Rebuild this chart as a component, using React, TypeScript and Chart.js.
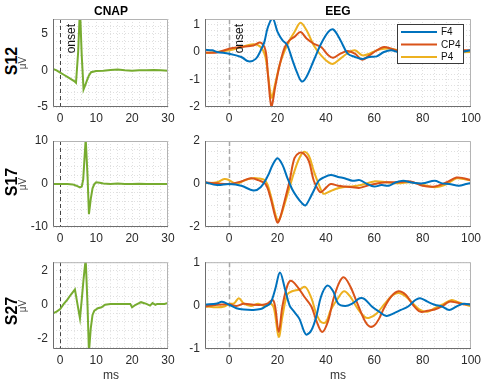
import React, { useEffect, useRef } from "react";
import { Chart, registerables } from "chart.js";
Chart.register(...registerables);

const FONT = "'Liberation Sans', Arial, Helvetica, sans-serif";
const BLUE = "#0072BD";
const ORANGE = "#D95319";
const YELLOW = "#EDB120";
const GREEN = "#77AC30";

// ---------- tick labels ----------
const cnapXMajor = [0, 10, 20, 30];
const eegXMajor = [0, 20, 40, 60, 80, 100];
const s12CnapYMajor = [-5, 0, 5];
const s17CnapYMajor = [-10, 0, 10];
const s27CnapYMajor = [-2, 0, 2];
const s12EegYMajor = [-2, -1, 0, 1];
const s17EegYMajor = [-2, 0, 2];
const s27EegYMajor = [-1, 0, 1];

const rowLabels = ["S12", "S17", "S27"];
const legendLabels = ["F4", "CP4", "P4"];

// ---------- CNAP ----------
const s12CnapX = [-2, -1, 0, 1, 2, 3, 4, 4.4, 5, 5.5, 6, 6.5, 7, 7.5, 8, 8.6, 10, 12, 14, 16, 18, 20, 22, 24, 26, 28, 30];
const s12CnapY = [0.2, 0.0, -0.3, -0.6, -0.9, -1.2, -1.5, -1.7, 2.5, 8.5, 2.0, -2.6, -2.0, -1.3, -0.7, -0.25, -0.1, -0.05, 0.05, 0.1, 0.0, -0.05, 0.0, 0.0, 0.05, 0.0, -0.05];

const s17CnapX = [-2, 0, 2, 3.5, 4.5, 5.5, 6.0, 6.4, 7.1, 7.6, 8.0, 8.5, 9, 9.5, 10, 11, 12, 14, 16, 18, 20, 22, 24, 26, 28, 30];
const s17CnapY = [0, 0, 0, -0.1, -0.4, -0.8, -0.6, 1.0, 10.5, 2.0, -7.0, -3.5, -1.0, 0.0, 0.4, 0.3, 0.1, 0.0, 0.1, 0.0, 0.0, 0.05, 0.0, 0.0, 0.0, 0.0];

const s27CnapX = [-2, -1, 0, 1, 2, 3, 4.1, 5, 5.5, 6, 6.5, 7.1, 7.6, 8, 8.5, 9, 9.5, 10.5, 11.5, 12.5, 14, 16, 18, 19.5, 20, 21, 22.5, 24, 25, 25.7, 26.5, 27, 28, 29, 30];
const s27CnapY = [-0.5, -0.4, -0.25, 0.05, 0.3, 0.6, 0.9, -0.2, -0.8, 0.3, 1.5, 2.7, 0.0, -2.8, -1.4, -0.6, -0.35, -0.2, -0.15, 0.0, 0.05, 0.05, 0.05, 0.05, -0.15, 0.0, 0.15, 0.05, -0.05, 0.1, 0.0, 0.05, 0.05, 0.05, 0.1];

// ---------- EEG S12 ----------
const s12F4X = [-10, -7, -5, 0, 5, 8, 11, 13, 14.5, 16, 18, 20, 22, 24, 26, 28, 30, 32, 35, 38, 41, 43, 46, 49, 52, 55, 58, 61, 64, 67, 70, 75, 80, 85, 90, 95, 100];
const s12F4Y = [0.08, 0.06, 0.0, -0.06, -0.18, -0.34, -0.25, 0.05, 0.35, 0.9, 1.22, 0.73, 0.43, 0.25, -0.25, -0.73, -1.07, -0.9, -0.3, 0.3, 0.73, 0.82, 0.43, -0.06, -0.18, -0.25, -0.18, -0.16, 0.0, 0.06, 0.0, 0.06, 0.0, 0.05, 0.02, 0.0, 0.06];
const s12Cp4X = [-10, -5, 0, 5, 10, 13, 15, 16, 17.5, 19, 21, 23, 25, 27, 29.5, 32, 35, 38, 41, 43, 46, 49, 52, 55, 58, 61, 64, 67, 70, 80, 90, 100];
const s12Cp4Y = [-0.02, -0.02, 0.12, 0.18, 0.24, 0.34, 0.06, -0.8, -2.0, -1.28, -0.43, 0.18, 0.43, 0.55, 0.73, 0.49, 0.3, 0.18, -0.12, -0.21, -0.06, 0.04, -0.06, -0.28, -0.12, 0.06, 0.18, 0.12, 0.04, 0.0, 0.06, 0.06];
const s12P4X = [-10, 0, 5, 10, 13, 15, 17.5, 19, 21, 23, 25, 27, 29.5, 32, 35, 38, 41, 43, 46, 49, 52, 55, 58, 61, 64, 67, 70, 80, 90, 100];
const s12P4Y = [-0.04, 0.06, 0.18, 0.28, 0.18, -0.18, -1.65, -1.16, -0.43, 0.06, 0.43, 0.73, 1.06, 0.79, 0.24, -0.12, -0.37, -0.43, -0.24, -0.04, 0.06, -0.12, -0.06, 0.06, 0.12, 0.12, 0.06, 0.0, -0.02, 0.0];

// ---------- EEG S17 ----------
const s17F4X = [-10, -5, 0, 5, 10, 13, 16, 18, 20, 22, 24, 26, 28, 30, 31.5, 33, 35, 37, 39, 42, 45, 48, 51, 54, 57, 60, 63, 66, 69, 72, 75, 80, 85, 88, 91, 95, 98, 100];
const s17F4Y = [0.08, -0.05, 0, -0.08, -0.3, -0.15, 0.38, 0.9, 1.2, 0.9, 0.3, -0.23, -0.6, -0.88, -1.0, -0.75, -0.3, 0.15, 0.3, 0.42, 0.33, 0.26, 0.15, 0.18, 0, -0.12, -0.05, -0.08, 0.08, 0.15, 0.08, 0.03, 0.15, 0.03, 0, -0.08, 0, 0.05];
const s17Cp4X = [-10, -5, 0, 5, 9, 12, 15, 17, 19, 20, 21, 23, 25, 27, 29, 31, 33, 35, 37, 38, 40, 42, 45, 48, 51, 54, 57, 60, 65, 70, 75, 80, 85, 90, 94, 97, 100];
const s17Cp4Y = [0.08, 0.03, 0, 0.12, 0.27, 0.18, 0, -0.6, -1.5, -1.8, -1.6, -0.75, 0.15, 1.2, 1.45, 1.4, 1.05, 0.15, -0.3, -0.38, -0.18, 0, -0.08, -0.12, -0.15, -0.18, -0.08, 0, 0.08, 0.08, 0.12, -0.08, -0.12, 0.08, 0.3, 0.27, 0.18];
const s17P4X = [-10, -5, -2, 0, 3, 6, 9, 12, 15, 17, 19, 20, 21, 23, 25, 27, 29, 31, 33, 35, 37, 39, 41, 44, 47, 50, 53, 56, 60, 65, 70, 75, 80, 85, 90, 94, 97, 100];
const s17P4Y = [0.03, 0.08, 0.23, 0.18, 0, 0.15, 0.26, 0.26, 0.15, -0.45, -1.36, -1.67, -1.6, -0.9, -0.15, 0.6, 1.2, 1.5, 1.3, 0.6, 0, -0.45, -0.38, -0.23, -0.15, -0.12, -0.08, 0, 0.12, 0.08, 0.03, 0.08, -0.03, -0.15, 0, 0.26, 0.23, 0.15];

// ---------- EEG S27 ----------
const s27F4X = [-10, -5, -3, 0, 3, 6, 10, 13, 15, 17, 19, 21, 23, 25, 27, 29, 31, 32, 34, 36, 38, 40.5, 43, 45, 48, 51, 54, 56, 59, 62, 65, 68, 71, 74, 77, 79, 82, 85, 88, 91, 94, 97, 100];
const s27F4Y = [0.02, 0.05, 0.09, 0.02, -0.06, -0.09, -0.1, -0.08, -0.02, 0.05, 0.37, 0.76, 0.4, 0.0, -0.15, -0.3, -0.6, -0.67, -0.57, -0.26, 0.21, 0.46, 0.33, 0.05, -0.01, 0.05, 0.17, 0.15, -0.02, -0.14, -0.24, -0.18, -0.1, -0.02, 0.13, 0.17, 0.09, 0.02, -0.02, -0.1, -0.02, 0.04, 0.02];
const s27Cp4X = [-10, -5, 0, 3, 6, 10, 14, 16, 18, 19, 20.5, 22, 24, 25.5, 28, 31, 34, 36, 38.5, 41, 43, 45.5, 47.5, 50, 53, 56, 58, 60, 62, 64, 67, 70, 73, 76, 79, 82, 85, 88, 91, 94, 97, 100];
const s27Cp4Y = [-0.02, 0.02, 0.03, -0.01, 0.04, 0.02, 0.02, 0.05, 0.13, -0.02, -0.61, -0.02, 0.45, 0.57, 0.45, 0.21, -0.02, -0.34, -0.61, -0.34, 0.13, 0.53, 0.65, 0.45, 0.05, -0.34, -0.48, -0.46, -0.3, -0.06, 0.21, 0.33, 0.25, 0.02, -0.14, -0.12, -0.09, -0.02, 0.09, 0.07, 0.03, 0.03];
const s27P4X = [-10, -5, -2, 0, 2, 4, 6, 9, 12, 15, 17, 18.5, 20.5, 22, 24, 26, 29, 31.5, 34, 36, 38, 40, 42, 45, 47.5, 50, 53, 56, 58, 61, 64, 67, 70, 73, 76, 79, 82, 85, 88, 92, 95, 98, 100];
const s27P4Y = [-0.02, -0.04, -0.02, 0.04, 0.05, 0.17, 0.05, -0.01, 0.04, -0.02, 0.05, -0.06, -0.72, -0.26, 0.25, 0.33, 0.37, 0.43, 0.17, -0.18, -0.38, -0.38, -0.1, 0.17, 0.33, 0.21, -0.06, -0.26, -0.28, -0.18, 0.02, 0.21, 0.29, 0.21, 0.05, -0.1, -0.14, -0.06, 0.02, 0.13, 0.07, 0.02, -0.02];

// ---------- helpers ----------
type Series = { xs: number[]; ys: number[]; color: string; label: string };
type PanelDef = {
  left: number; top: number; width: number; height: number;
  plotLeft: number; plotTop: number; plotRight: number; plotBottom: number;
  xMin: number; xMax: number; xStep: number; xMajor: number[];
  yMin: number; yMax: number; yStep: number; yMajor: number[];
  series: Series[]; smooth: boolean; onsetText: boolean; legend: boolean;
  onsetColor: string; onsetWidth: number; onsetDash: number[];
};

function stepTicks(min: number, max: number, step: number): number[] {
  const out: number[] = [];
  const k0 = Math.ceil(min / step - 1e-9);
  const k1 = Math.floor(max / step + 1e-9);
  for (let k = k0; k <= k1; k++) out.push(Math.round(k * step * 1e6) / 1e6);
  return out;
}
const inList = (v: number, list: number[]) => list.some((m) => Math.abs(m - v) < 1e-6);

const panelPlugin = {
  id: "panelDeco",
  beforeDatasetsDraw(chart: any, _a: any, o: any) {
    const { ctx, chartArea: a, scales } = chart;
    const x0 = Math.round(scales.x.getPixelForValue(0)) + 0.5;
    ctx.save();
    ctx.strokeStyle = o.onsetColor;
    ctx.lineWidth = o.onsetWidth;
    ctx.setLineDash(o.onsetDash);
    ctx.beginPath();
    ctx.moveTo(x0, a.top);
    ctx.lineTo(x0, a.bottom);
    ctx.stroke();
    ctx.restore();
  },
  afterDatasetsDraw(chart: any, _a: any, o: any) {
    const { ctx, chartArea: a, scales } = chart;
    ctx.save();
    ctx.setLineDash([]);
    ctx.lineWidth = 1;
    ctx.strokeStyle = "#b4b4b4";
    ctx.beginPath();
    ctx.moveTo(a.left, a.top + 0.5);
    ctx.lineTo(a.right - 0.5, a.top + 0.5);
    ctx.lineTo(a.right - 0.5, a.bottom);
    ctx.stroke();
    ctx.strokeStyle = "#6e6e6e";
    ctx.beginPath();
    ctx.moveTo(a.left + 0.5, a.top);
    ctx.lineTo(a.left + 0.5, a.bottom - 0.5);
    ctx.lineTo(a.right, a.bottom - 0.5);
    ctx.stroke();

    if (o.onsetText) {
      const x0 = scales.x.getPixelForValue(0);
      ctx.save();
      ctx.translate(x0 + 11, a.top + 5);
      ctx.rotate(-Math.PI / 2);
      ctx.fillStyle = "#111";
      ctx.font = `12px ${FONT}`;
      ctx.textAlign = "right";
      ctx.textBaseline = "middle";
      ctx.fillText("onset", 0, 0);
      ctx.restore();
    }

    if (o.legend) {
      const bx = 397 - o.cLeft, by = 24 - o.cTop, bw = 67, bh = 40;
      ctx.fillStyle = "#ffffff";
      ctx.fillRect(bx, by, bw, bh);
      ctx.strokeStyle = "#3a3a3a";
      ctx.lineWidth = 1;
      ctx.strokeRect(bx + 0.5, by + 0.5, bw - 1, bh - 1);
      const items = o.items as { label: string; color: string }[];
      items.forEach((it, i) => {
        const ly = by + 8 + i * 12.5;
        ctx.strokeStyle = it.color;
        ctx.lineWidth = 2;
        ctx.beginPath();
        ctx.moveTo(bx + 4, ly);
        ctx.lineTo(bx + 40, ly);
        ctx.stroke();
        ctx.fillStyle = "#111";
        ctx.font = `10px ${FONT}`;
        ctx.textAlign = "left";
        ctx.textBaseline = "middle";
        ctx.fillText(it.label, bx + 44, ly + 0.5);
      });
    }
    ctx.restore();
  },
};

function Panel({ d }: { d: PanelDef }) {
  const ref = useRef<HTMLCanvasElement | null>(null);
  useEffect(() => {
    if (!ref.current) return;
    const xTicks = stepTicks(d.xMin, d.xMax, d.xStep);
    const yTicks = stepTicks(d.yMin, d.yMax, d.yStep);
    const tickFont = { family: FONT, size: 12 };
    const chart = new Chart(ref.current, {
      type: "line",
      data: {
        datasets: d.series.map((s) => ({
          label: s.label,
          data: s.xs.map((x, i) => ({ x, y: s.ys[i] })),
          borderColor: s.color,
          backgroundColor: s.color,
          borderWidth: 2,
          pointRadius: 0,
          fill: false,
          tension: d.smooth ? 0.35 : 0,
          clip: 0,
        })),
      },
      options: {
        animation: false,
        responsive: false,
        maintainAspectRatio: false,
        events: [],
        layout: {
          padding: {
            left: 0,
            top: d.plotTop - d.top,
            right: d.left + d.width - d.plotRight,
            bottom: 0,
          },
        },
        plugins: {
          legend: { display: false },
          tooltip: { enabled: false },
          panelDeco: {
            onsetText: d.onsetText,
            legend: d.legend,
            onsetColor: d.onsetColor,
            onsetWidth: d.onsetWidth,
            onsetDash: d.onsetDash,
            cLeft: d.left,
            cTop: d.top,
            items: d.series.map((s) => ({ label: s.label, color: s.color })),
          },
        } as any,
        scales: {
          x: {
            type: "linear",
            min: d.xMin,
            max: d.xMax,
            afterFit: (s: any) => { s.height = d.top + d.height - d.plotBottom; },
            afterBuildTicks: (s: any) => { s.ticks = xTicks.map((v) => ({ value: v })); },
            ticks: {
              autoSkip: false,
              maxRotation: 0,
              padding: 4,
              color: "#2b2b2b",
              font: tickFont,
              callback: (v: any) => (inList(Number(v), d.xMajor) ? String(Number(v)) : ""),
            },
            grid: { color: "#e0e0e0", lineWidth: 1, drawTicks: false },
            border: { display: false, dash: [1, 2] },
          },
          y: {
            type: "linear",
            min: d.yMin,
            max: d.yMax,
            afterFit: (s: any) => { s.width = d.plotLeft - d.left; },
            afterBuildTicks: (s: any) => { s.ticks = yTicks.map((v) => ({ value: v })); },
            ticks: {
              autoSkip: false,
              padding: 5,
              color: "#2b2b2b",
              font: tickFont,
              callback: (v: any) => (inList(Number(v), d.yMajor) ? String(Number(v)) : ""),
            },
            grid: { color: "#e0e0e0", lineWidth: 1, drawTicks: false },
            border: { display: false, dash: [1, 2] },
          },
        },
      } as any,
      plugins: [panelPlugin as any],
    });
    return () => chart.destroy();
  }, [d]);
  return (
    <canvas
      ref={ref}
      width={d.width}
      height={d.height}
      style={{ position: "absolute", left: d.left, top: d.top, width: d.width, height: d.height }}
    />
  );
}

// ---------- layout ----------
const rowsGeom = [
  { top: 0, height: 130, plotTop: 19, plotBottom: 107 },
  { top: 125, height: 130, plotTop: 141, plotBottom: 227 },
  { top: 250, height: 130, plotTop: 262, plotBottom: 349 },
];
const leftGeom = { left: 20, width: 160, plotLeft: 53, plotRight: 168 };
const rightGeom = { left: 180, width: 305, plotLeft: 205, plotRight: 472 };

const cnapSeries = [
  { xs: s12CnapX, ys: s12CnapY },
  { xs: s17CnapX, ys: s17CnapY },
  { xs: s27CnapX, ys: s27CnapY },
];
const cnapY = [
  { min: -5, max: 7, step: 1, major: s12CnapYMajor },
  { min: -10, max: 10, step: 2, major: s17CnapYMajor },
  { min: -2.6, max: 2.5, step: 0.5, major: s27CnapYMajor },
];
const eegSeries = [
  [[s12F4X, s12F4Y], [s12Cp4X, s12Cp4Y], [s12P4X, s12P4Y]],
  [[s17F4X, s17F4Y], [s17Cp4X, s17Cp4Y], [s17P4X, s17P4Y]],
  [[s27F4X, s27F4Y], [s27Cp4X, s27Cp4Y], [s27P4X, s27P4Y]],
];
const eegY = [
  { min: -2, max: 1.2, step: 0.2, major: s12EegYMajor },
  { min: -2, max: 2, step: 0.5, major: s17EegYMajor },
  { min: -1, max: 1, step: 0.2, major: s27EegYMajor },
];
const eegColors = [BLUE, ORANGE, YELLOW];

const panels: PanelDef[] = [];
rowsGeom.forEach((r, i) => {
  panels.push({
    ...leftGeom, top: r.top, height: r.height, plotTop: r.plotTop, plotBottom: r.plotBottom,
    xMin: -2, xMax: 30, xStep: 2, xMajor: cnapXMajor,
    yMin: cnapY[i].min, yMax: cnapY[i].max, yStep: cnapY[i].step, yMajor: cnapY[i].major,
    series: [{ xs: cnapSeries[i].xs, ys: cnapSeries[i].ys, color: GREEN, label: "CNAP" }],
    smooth: false, onsetText: i === 0, legend: false,
    onsetColor: "#444444", onsetWidth: 1, onsetDash: [4, 3],
  });
  panels.push({
    ...rightGeom, top: r.top, height: r.height, plotTop: r.plotTop, plotBottom: r.plotBottom,
    xMin: -10, xMax: 100, xStep: 5, xMajor: eegXMajor,
    yMin: eegY[i].min, yMax: eegY[i].max, yStep: eegY[i].step, yMajor: eegY[i].major,
    series: eegSeries[i].map((p, j) => ({ xs: p[0], ys: p[1], color: eegColors[j], label: legendLabels[j] })),
    smooth: true, onsetText: i === 0, legend: i === 0,
    onsetColor: "#a8a8a8", onsetWidth: 1.5, onsetDash: [5, 3],
  });
});

function Txt({ x, y, text, size, bold, rotate, color }: { x: number; y: number; text: string; size: number; bold?: boolean; rotate?: boolean; color?: string }) {
  return (
    <div
      style={{
        position: "absolute", left: x, top: y,
        transform: `translate(-50%, -50%)${rotate ? " rotate(-90deg)" : ""}`,
        fontFamily: FONT, fontSize: size, fontWeight: bold ? 700 : 400,
        lineHeight: 1, whiteSpace: "nowrap", color: color || "#000",
      }}
    >
      {text}
    </div>
  );
}

export default function App() {
  const sCenters = [61, 182, 311];
  return (
    <div style={{ position: "fixed", left: 0, top: 0, width: 485, height: 380, background: "#fff", overflow: "hidden" }}>
      {panels.map((p, i) => <Panel key={i} d={p} />)}
      <Txt x={111} y={11} text="CNAP" size={12} bold />
      <Txt x={338} y={11} text="EEG" size={12} bold />
      {rowLabels.map((t, i) => <Txt key={t} x={12} y={sCenters[i]} text={t} size={16} bold rotate />)}
      {rowsGeom.map((r, i) => (
        <Txt key={i} x={23} y={(r.plotTop + r.plotBottom) / 2} text="μV" size={10} rotate color="#444" />
      ))}
      <Txt x={111} y={375} text="ms" size={12} color="#333" />
      <Txt x={338} y={375} text="ms" size={12} color="#333" />
    </div>
  );
}
